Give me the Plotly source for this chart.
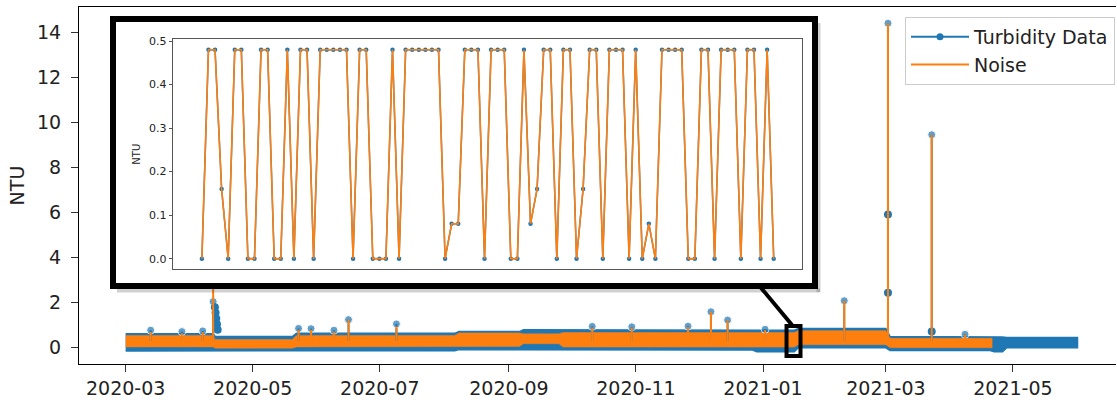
import pandas as pd
import plotly.graph_objects as go

# ---------------- data ----------------
# Dense turbidity record drawn as its visible envelope (NTU)
turb_band_dates = ["2020-03-01", "2020-04-12", "2020-04-13", "2020-05-20", "2020-05-22",
                   "2020-08-06", "2020-08-08", "2020-09-06", "2020-09-08", "2020-12-27",
                   "2020-12-29", "2021-01-16", "2021-01-18", "2021-03-01", "2021-03-03",
                   "2021-04-20", "2021-04-22", "2021-04-26", "2021-04-28", "2021-06-01"]
turb_band_high = [0.62, 0.62, 0.50, 0.50, 0.64, 0.64, 0.72, 0.72, 0.80, 0.78,
                  0.78, 0.78, 0.86, 0.86, 0.50, 0.50, 0.48, 0.48, 0.46, 0.46]
turb_band_low = [-0.14, -0.14, -0.13, -0.13, -0.13, -0.13, -0.08, -0.08, -0.06, -0.10,
                 -0.18, -0.18, 0.00, 0.00, -0.12, -0.12, -0.18, -0.18, 0.00, 0.00]

# Dense noise record drawn as its visible envelope (NTU)
noise_band_dates = ["2020-03-01", "2020-04-12", "2020-04-13", "2020-05-20", "2020-05-22",
                    "2020-08-06", "2020-08-08", "2020-09-06", "2020-09-08", "2020-09-25",
                    "2020-09-27", "2021-01-16", "2021-01-18", "2021-03-01", "2021-03-03",
                    "2021-04-21"]
noise_band_high = [0.55, 0.55, 0.37, 0.37, 0.55, 0.55, 0.66, 0.66, 0.62, 0.62,
                   0.68, 0.68, 0.76, 0.76, 0.42, 0.42]
noise_band_low = [0.04, 0.04, -0.02, -0.02, 0.04, 0.04, 0.06, 0.06, 0.18, 0.18,
                  0.03, 0.03, 0.14, 0.14, 0.00, 0.00]

# Isolated peaks above the band
spike_dates = ["2020-03-13", "2020-03-28", "2020-04-07", "2020-04-12", "2020-05-23",
               "2020-05-29", "2020-06-09", "2020-06-16", "2020-07-09", "2020-10-11",
               "2020-10-30", "2020-11-26", "2020-12-07", "2020-12-15", "2021-01-02",
               "2021-02-09", "2021-03-02", "2021-03-23", "2021-04-08"]
turbidity_peaks = [0.78, 0.72, 0.75, 2.05, 0.86, 0.85, 0.78, 1.25, 1.06, 0.95,
                   0.93, 0.96, 1.60, 1.23, 0.82, 2.09, 14.41, 9.46, 0.60]
noise_peaks = [0.70, 0.65, 0.70, 2.75, 0.80, 0.80, 0.72, 1.25, 0.95, 0.90,
               0.90, 0.92, 1.60, 1.23, 0.78, 2.09, 14.41, 9.46, 0.58]
spike_base = 0.3

# Extra turbidity samples visible on the spike stems
extra_turb_dates = ["2021-03-02", "2021-03-02", "2020-04-12 20:00", "2020-04-13 04:00",
                    "2020-04-13 12:00", "2020-04-13 20:00", "2020-04-14 04:00", "2021-03-23"]
extra_turb_values = [5.92, 2.44, 1.80, 1.55, 1.30, 1.05, 0.80, 0.72]

# Zoomed window (inset): consecutive samples, identical for both series
inset_start = "2021-01-12 12:00"
inset_step = "2h"
inset_values = [0, .48, .48, .16, 0, .48, .48, 0, 0, .48, .48, 0, 0, .48, 0, .48, .48, 0,
                .48, .48, .48, .48, .48, 0, .48, .48, 0, 0, 0, .48, 0, .48, .48, .48, .48,
                .48, .48, 0, .08, .08, .48, .48, .48, 0, .48, .48, .48, 0, 0, .48, .08, .16,
                .48, .48, 0, .48, .48, 0, .16, .48, .48, 0, .48, .48, .48, 0, .48, 0, .08, 0,
                .48, .48, .48, .48, 0, 0, .48, .48, 0, .48, .48, .48, 0, .48, .48, 0, .48, 0]

x_tick_vals = ["2020-03-01", "2020-05-01", "2020-07-01", "2020-09-01", "2020-11-01",
               "2021-01-01", "2021-03-01", "2021-05-01"]
x_tick_text = ["2020-03", "2020-05", "2020-07", "2020-09", "2020-11", "2021-01", "2021-03", "2021-05"]
y_tick_vals = [0, 2, 4, 6, 8, 10, 12, 14]
inset_y_ticks = [0.0, 0.1, 0.2, 0.3, 0.4, 0.5]
inset_y_text = ["0.0", "0.1", "0.2", "0.3", "0.4", "0.5"]

# ---------------- figure ----------------
BLUE = "#1f77b4"
ORANGE = "#ff7f0e"
FONT = "DejaVu Sans"

fig = go.Figure()

# envelopes
fig.add_trace(go.Scatter(
    x=turb_band_dates + turb_band_dates[::-1],
    y=turb_band_high + turb_band_low[::-1],
    fill="toself", fillcolor=BLUE, mode="lines", line=dict(width=1.5, color=BLUE),
    showlegend=False, hoverinfo="skip"))
fig.add_trace(go.Scatter(
    x=noise_band_dates + noise_band_dates[::-1],
    y=noise_band_high + noise_band_low[::-1],
    fill="toself", fillcolor=ORANGE, mode="lines", line=dict(width=0.5, color=ORANGE),
    showlegend=False, hoverinfo="skip"))

# turbidity peaks (blue stems + markers)
tx, ty, ts = [], [], []
for d, p in zip(spike_dates, turbidity_peaks):
    tx += [d, d, None]
    ty += [spike_base, p, None]
    ts += [0, 8, 0]
fig.add_trace(go.Scatter(
    x=tx, y=ty, mode="lines+markers",
    line=dict(color=BLUE, width=2), marker=dict(color=BLUE, size=ts),
    connectgaps=False, showlegend=False))
fig.add_trace(go.Scatter(
    x=extra_turb_dates, y=extra_turb_values, mode="markers",
    marker=dict(color=BLUE, size=8), showlegend=False))

# noise peaks (orange stems)
nx, ny = [], []
for d, p in zip(spike_dates, noise_peaks):
    nx += [d, d, None]
    ny += [spike_base, p, None]
fig.add_trace(go.Scatter(
    x=nx, y=ny, mode="lines",
    line=dict(color=ORANGE, width=2), connectgaps=False, showlegend=False))

# legend entries
fig.add_trace(go.Scatter(x=[None], y=[None], mode="lines+markers", name="Turbidity Data",
                         line=dict(color=BLUE, width=2), marker=dict(color=BLUE, size=7)))
fig.add_trace(go.Scatter(x=[None], y=[None], mode="lines", name="Noise",
                         line=dict(color=ORANGE, width=2)))

# inset
inset_x = pd.date_range(inset_start, periods=len(inset_values), freq=inset_step)
fig.add_trace(go.Scatter(
    x=inset_x, y=inset_values, mode="lines+markers", xaxis="x2", yaxis="y2",
    line=dict(color=BLUE, width=1.5), marker=dict(color=BLUE, size=4.5), showlegend=False))
fig.add_trace(go.Scatter(
    x=inset_x, y=inset_values, mode="lines", xaxis="x2", yaxis="y2",
    line=dict(color=ORANGE, width=1.6), showlegend=False))

span = inset_x[-1] - inset_x[0]
inset_range = [inset_x[0] - 0.05 * span, inset_x[-1] + 0.05 * span]

# plot area: x 79..1116, y 7..364
L, R, T, B = 79, 1116, 7, 364
W, H = R - L, B - T
def px(xp):
    return (xp - L) / W
def py(yp):
    return (B - yp) / H

shapes = []
# frame shadow
shapes.append(dict(type="line", xref="paper", yref="paper", x0=px(117), x1=px(820),
                   y0=py(290.5), y1=py(290.5), line=dict(color="rgba(0,0,0,0.18)", width=4), layer="above"))
shapes.append(dict(type="line", xref="paper", yref="paper", x0=px(818.5), x1=px(818.5),
                   y0=py(23), y1=py(292), line=dict(color="rgba(0,0,0,0.18)", width=4), layer="above"))
# inset frame
shapes.append(dict(type="rect", xref="paper", yref="paper", x0=px(113), x1=px(815),
                   y0=py(286), y1=py(19), line=dict(color="black", width=6), layer="above"))
# connector
shapes.append(dict(type="line", xref="paper", yref="paper", x0=px(759.5), y0=py(286),
                   x1=px(792), y1=py(325), line=dict(color="black", width=4), layer="above"))
# zoom window indicator
shapes.append(dict(type="rect", xref="x", yref="y", x0="2021-01-12 07:00", x1="2021-01-19 00:00",
                   y0=-0.368, y1=0.963, line=dict(color="black", width=4), layer="above"))

fig.update_layout(
    width=1117, height=400, autosize=False,
    margin=dict(l=L, r=1117 - R, t=T, b=400 - B),
    paper_bgcolor="white", plot_bgcolor="white",
    font=dict(family=FONT, size=19, color="#222"),
    shapes=shapes,
    showlegend=True,
    legend=dict(x=px(1115), y=py(17), xanchor="right", yanchor="top",
                bgcolor="rgba(255,255,255,0.85)", bordercolor="#cccccc", borderwidth=1,
                font=dict(family=FONT, size=19, color="#222"), itemwidth=58,
                tracegroupgap=0),
    xaxis=dict(domain=[0, 1], type="date",
               range=["2020-02-07 14:10", "2021-06-19 11:30"],
               tickvals=x_tick_vals, ticktext=x_tick_text,
               showline=True, linecolor="black", linewidth=1, mirror=True,
               ticks="outside", ticklen=7, tickwidth=1.2, tickcolor="#333",
               showgrid=False, zeroline=False, tickfont=dict(size=19, color="#222")),
    yaxis=dict(domain=[0, 1], range=[-0.72, 15.13], tickvals=y_tick_vals,
               showline=True, linecolor="black", linewidth=1, mirror=False,
               ticks="outside", ticklen=7, tickwidth=1.2, tickcolor="#333",
               showgrid=False, zeroline=False, tickfont=dict(size=19, color="#222"),
               ticklabelstandoff=6,
               title=dict(text="NTU", font=dict(size=19, color="#222"), standoff=7)),
    xaxis2=dict(domain=[px(173.3), px(802.3)], anchor="y2", type="date", range=inset_range,
                showticklabels=False, ticks="", showline=True, linecolor="#555",
                linewidth=1, mirror=True, showgrid=False, zeroline=False),
    yaxis2=dict(domain=[py(269.1), py(39.3)], anchor="x2", range=[-0.024, 0.504],
                tickvals=inset_y_ticks, ticktext=inset_y_text,
                ticks="outside", ticklen=3.5, tickwidth=1, tickcolor="#555",
                showline=True, linecolor="#555", linewidth=1, mirror=True,
                showgrid=False, zeroline=False, tickfont=dict(size=11, color="#222"),
                title=dict(text="NTU", font=dict(size=10, color="#222"), standoff=6)),
)

fig.write_html("out.html")
